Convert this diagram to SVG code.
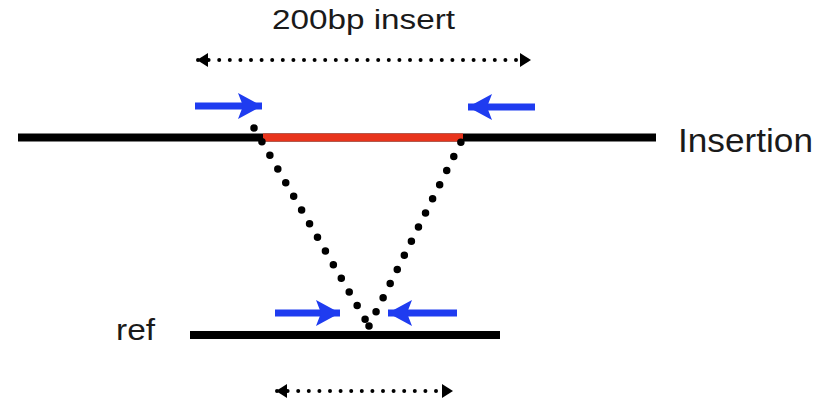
<svg xmlns="http://www.w3.org/2000/svg" width="834" height="402" viewBox="0 0 834 402">
  <style>
    .label { font-family: "Liberation Sans", Arial, sans-serif; fill: #1a1a1a; }
    .seq { stroke: #000; stroke-width: 8; fill: none; }
    .primer { stroke: #1f3cf0; stroke-width: 7; fill: none; marker-end: url(#bluehead); }
    .span { stroke: #000; stroke-width: 4; stroke-linecap: round; stroke-dasharray: 0 10.6; fill: none; marker-start: url(#dotStart); marker-end: url(#dotEnd); }
    .gap { stroke: #000; stroke-width: 7.5; stroke-linecap: round; stroke-dasharray: 0 15.8; fill: none; }
  </style>
  <defs>
    <marker id="bluehead" markerUnits="userSpaceOnUse" markerWidth="26" markerHeight="28" viewBox="0 0 26 28" refX="24" refY="14" orient="auto">
      <path d="M0,1 L24,14 L0,27 L5,14 Z" fill="#1f3cf0"/>
    </marker>
    <marker id="dotEnd" markerUnits="userSpaceOnUse" markerWidth="11" markerHeight="14" viewBox="0 0 11 14" refX="10" refY="7" orient="auto">
      <path d="M0,0 L11,7 L0,14 Z" fill="#000"/>
    </marker>
    <marker id="dotStart" markerUnits="userSpaceOnUse" markerWidth="11" markerHeight="14" viewBox="0 0 11 14" refX="1" refY="7" orient="auto">
      <path d="M11,0 L0,7 L11,14 Z" fill="#000"/>
    </marker>
  </defs>

  <rect width="834" height="402" fill="#fff"/>

  <g id="insertion-seq">
    <line class="seq" x1="18" y1="137.5" x2="656" y2="137.5"/>
    <line x1="263" y1="137.5" x2="463" y2="137.5" stroke="#e8341c" stroke-width="8"/>
    <text class="label" x="678" y="152" font-size="33" textLength="135" lengthAdjust="spacingAndGlyphs">Insertion</text>
  </g>

  <g id="ref-seq">
    <line class="seq" x1="190" y1="335" x2="500" y2="335"/>
    <text class="label" x="116" y="340" font-size="29" textLength="39" lengthAdjust="spacingAndGlyphs">ref</text>
  </g>

  <g id="insert-label">
    <text class="label" x="272" y="29" font-size="27" textLength="183" lengthAdjust="spacingAndGlyphs">200bp insert</text>
  </g>

  <g id="connectors">
    <!-- insert span and reference span -->
    <line class="span" x1="198" y1="60" x2="530" y2="60"/>
    <line class="span" x1="277" y1="391" x2="452" y2="391"/>
    <!-- collapse of the insert onto the reference -->
    <line class="gap" x1="254" y1="128" x2="369" y2="326"/>
    <line class="gap" x1="369" y1="326" x2="463" y2="138"/>
    <!-- primers -->
    <line class="primer" x1="195" y1="106" x2="262" y2="106"/>
    <line class="primer" x1="535" y1="107" x2="468" y2="107"/>
    <line class="primer" x1="275" y1="313" x2="340" y2="313"/>
    <line class="primer" x1="457" y1="313" x2="388" y2="313"/>
  </g>
</svg>
